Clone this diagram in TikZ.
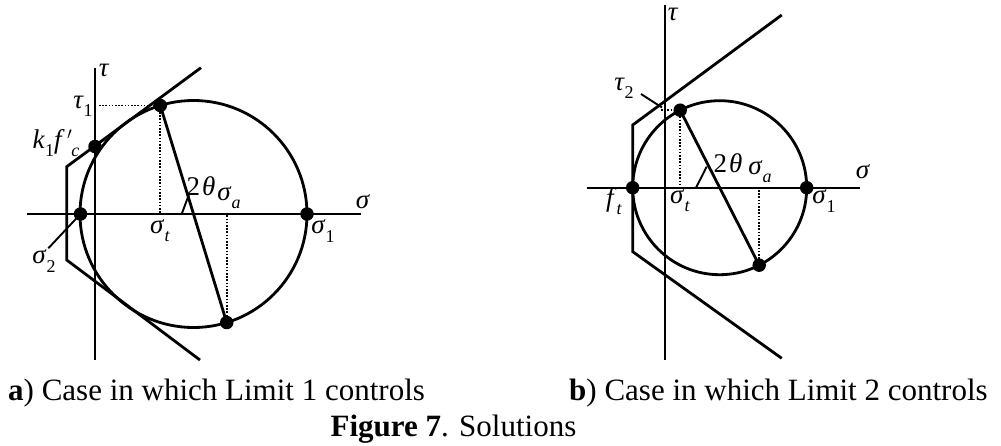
\documentclass[tikz,border=0pt]{standalone}
\usepackage{fontspec}
\setmainfont{Liberation Serif}
\newcommand\mysub[1]{\raisebox{-0.3em}{\fontsize{18}{18}\selectfont #1}}
\newcommand\gs[1]{\textit{σ}\kern0.3pt\mysub{#1}}
\begin{document}
\begin{tikzpicture}[x=1pt,y=-1pt,
  thickline/.style={line width=2.8pt, line join=miter},
  axisline/.style={line width=1.9pt},
  dotline/.style={line width=1.8pt, dash pattern=on 1.6pt off 1.6pt},
  markline/.style={line width=1.9pt},
  bigdot/.style={circle, fill=black, inner sep=0pt, minimum size=13.5pt},
  lbl/.style={inner sep=0pt, font=\fontsize{27}{29}\selectfont},
  captext/.style={inner sep=0pt, font=\fontsize{31}{34}\selectfont}]
\useasboundingbox (0,0) rectangle (1001,445);
% ---------------- left diagram ----------------
\coordinate (LO) at (193.5,214);
\coordinate (Lx0) at (27,214);  \coordinate (Lx1) at (361,214);
\coordinate (Ly0) at (95,68);   \coordinate (Ly1) at (95,360);
\draw[axisline] (Lx0) -- (Lx1);
\draw[axisline] (Ly0) -- (Ly1);
\draw[thickline] (LO) circle[radius=113.5pt];
\coordinate (LP1) at (201,67.7);
\coordinate (LP2) at (66.7,166.7);
\coordinate (LP3) at (66.7,260);
\coordinate (LP4) at (200,360);
\draw[thickline] (LP1) -- (LP2) -- (LP3) -- (LP4);
\node[bigdot] (Ltop) at (160.3,105.5) {};
\node[bigdot] (Lbot) at (226.7,322.5) {};
\node[bigdot] (Lk) at (95,146.5) {};
\node[bigdot] (Ls2) at (80.5,214) {};
\node[bigdot] (Ls1) at (307,214) {};
\draw[thickline] (Ltop.center) -- (Lbot.center);
\coordinate (Lt1a) at (99,105.5);
\coordinate (Lsta) at (160.3,214);
\coordinate (Lsaa) at (226.7,214);
\draw[dotline] (Lt1a) -- (Ltop.center);
\draw[dotline] (Ltop.center) -- (Lsta);
\draw[dotline] (Lbot.center) -- (Lsaa);
\coordinate (Lm0) at (181.7,214); \coordinate (Lm1) at (189.5,193);
\draw[markline] (Lm0) -- (Lm1);
\coordinate (Ls2l) at (48.3,248.3);
\draw[markline] (Ls2l) -- (Ls2.center);
\node[lbl] (Ltau) at (104,70) {\textit{τ}};
\node[lbl] (Ltau1) at (83,106) {\textit{τ}\mysub{1}};
\node[lbl] (Lkf) at (56,143) {\textit{k}\mysub{1}\textit{f\,}\kern1pt$'$\kern-1pt\mysub{\textit{c}}};
\node[lbl] (Ls2t) at (44,261) {\gs{2}};
\node[lbl] (Lstt) at (160,231) {\gs{\textit{t}}};
\node[lbl] (L2th) at (201,186) {2\kern2pt\textit{θ}};
\node[lbl] (Lsat) at (229,198) {\gs{\textit{a}}};
\node[lbl] (Ls1t) at (323,231) {\gs{1}};
\node[lbl] (Lsig) at (363,202) {\textit{σ}};
% ---------------- right diagram ----------------
\coordinate (RO) at (719.7,187.7);
\coordinate (Rx0) at (586.7,187.7);  \coordinate (Rx1) at (860,187.7);
\coordinate (Ry0) at (665,5);   \coordinate (Ry1) at (665,360);
\draw[axisline] (Rx0) -- (Rx1);
\draw[axisline] (Ry0) -- (Ry1);
\draw[thickline] (RO) circle[radius=87pt];
\coordinate (RP1) at (781.7,15);
\coordinate (RP2) at (632.7,125);
\coordinate (RP3) at (632.7,251.7);
\coordinate (RP4) at (781.7,358.3);
\draw[thickline] (RP1) -- (RP2) -- (RP3) -- (RP4);
\node[bigdot] (Rtop) at (680.2,110.2) {};
\node[bigdot] (Rbot) at (759.2,265.2) {};
\node[bigdot] (Rft) at (632.7,187.7) {};
\node[bigdot] (Rs1) at (806.7,187.7) {};
\draw[thickline] (Rtop.center) -- (Rbot.center);
\coordinate (Rt2a) at (661,110.2);
\coordinate (Rsta) at (680.2,187.7);
\coordinate (Rsaa) at (759.2,187.7);
\draw[dotline] (Rt2a) -- (Rtop.center);
\draw[dotline] (Rtop.center) -- (Rsta);
\draw[dotline] (Rbot.center) -- (Rsaa);
\coordinate (Rm0) at (696,187.7); \coordinate (Rm1) at (706.7,166.7);
\draw[markline] (Rm0) -- (Rm1);
\coordinate (Rl0) at (641,94); \coordinate (Rl1) at (662,107.5);
\draw[markline] (Rl0) -- (Rl1);
\node[lbl, anchor=base] (Rtau) at (673,20) {\textit{τ}};
\node[lbl] (Rtau2) at (624,88) {\textit{τ}\mysub{2}};
\node[lbl] (R2th) at (728,163) {2\kern2pt\textit{θ}};
\node[lbl] (Rsat) at (760,172) {\gs{\textit{a}}};
\node[lbl] (Rsig) at (863,172) {\textit{σ}};
\node[lbl] (Rftt) at (614,201) {\textit{f}\mysub{\textit{t}}};
\node[lbl] (Rstt) at (680,201) {\gs{\textit{t}}};
\node[lbl] (Rs1t) at (824,201) {\gs{1}};
% ---------------- captions ----------------
\node[captext, anchor=base west] (capa) at (8,400) {\textbf{a}) Case in which Limit 1 controls};
\node[captext, anchor=base west] (capb) at (569,400) {\textbf{b}) Case in which Limit 2 controls};
\node[captext, anchor=base] (capf) at (453.5,436) {\textbf{Figure 7}. Solutions};
\end{tikzpicture}
\end{document}
